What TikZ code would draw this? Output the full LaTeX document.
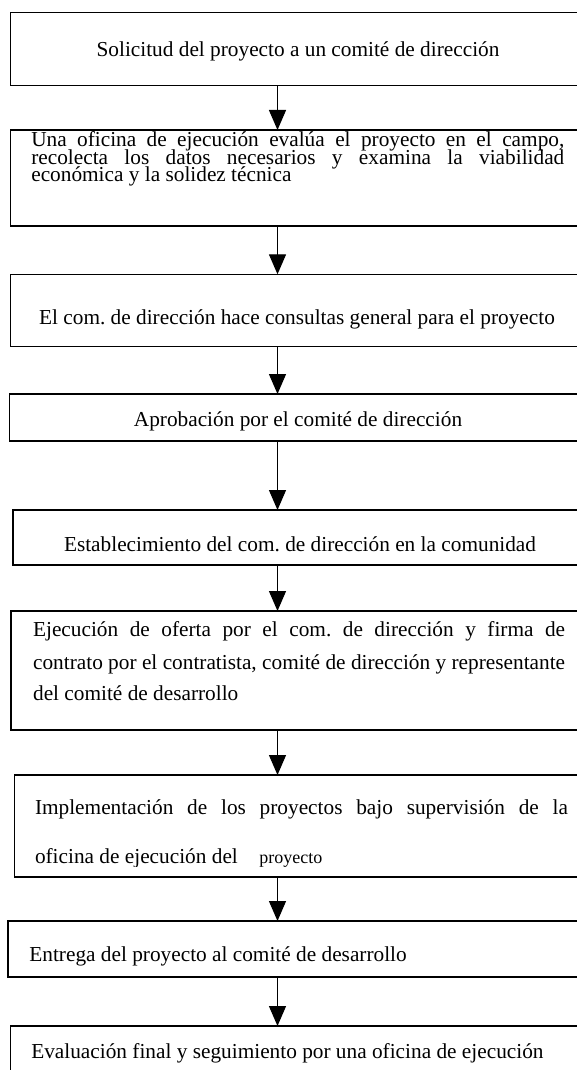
\documentclass[tikz,border=0pt]{standalone}
\usepackage{fontspec}
\setmainfont{Liberation Serif}
\usetikzlibrary{arrows.meta}
\frenchspacing
\begin{document}
\begin{tikzpicture}[x=1pt,y=-1pt,
  box/.style={draw=black, line width=1.3pt, rectangle, inner sep=0pt, outer sep=0pt, anchor=north west, minimum width=620pt},
  txt/.style={inner sep=0pt, outer sep=0pt, anchor=base west, font=\fontsize{21.3}{21.3}\selectfont},
  tight/.style={txt, text height=12pt, text depth=4pt},
  ctxt/.style={txt, anchor=base},
  small/.style={txt, font=\fontsize{18}{18}\selectfont},
  arr/.style={line width=1.3pt, -{Triangle[length=20pt,width=17pt]}}]
\useasboundingbox (0,0) rectangle (577,1070);
\fill[white] (0,0) rectangle (577,1070);
\begin{scope}
\clip (0,0) rectangle (577,1070);
% boxes
\node[box, minimum height=73pt] (b1) at (10.3,12.7) {};
\node[box, minimum height=96pt] (b2) at (10.3,130) {};
\node[box, minimum height=72.4pt] (b3) at (10.3,274.3) {};
\node[box, minimum height=47pt] (b4) at (9.2,394) {};
\node[box, minimum height=55pt] (b5) at (12.9,510) {};
\node[box, minimum height=119pt] (b6) at (11,611) {};
\node[box, minimum height=102pt] (b7) at (14.7,775) {};
\node[box, minimum height=56pt] (b8) at (8.1,921) {};
\node[box, minimum height=100pt] (b9) at (10.3,1026) {};
% texts
\node[ctxt] (t1) at (298,57) {Solicitud del proyecto a un comité de dirección};
\node[tight] (t2a) at (31.3,146.3) {\makebox[533pt][s]{Una oficina de ejecución evalúa el proyecto en el campo,}};
\node[tight] (t2b) at (31.3,164) {\makebox[533pt][s]{recolecta los datos necesarios y examina la viabilidad}};
\node[tight] (t2c) at (31.3,181.3) {económica y la solidez técnica};
\node[ctxt] (t3) at (297,324.7) {El com. de dirección hace consultas general para el proyecto};
\node[ctxt] (t4) at (298,426.3) {Aprobación por el comité de dirección};
\node[ctxt] (t5) at (300,551.3) {Establecimiento del com. de dirección en la comunidad};
\node[txt] (t6a) at (33.1,636.3) {\makebox[532pt][s]{Ejecución de oferta por el com. de dirección y firma de}};
\node[txt] (t6b) at (33.1,669.7) {\makebox[532pt][s]{contrato por el contratista, comité de dirección y representante}};
\node[txt] (t6c) at (33.1,700.7) {del comité de desarrollo};
\node[txt] (t7a) at (35,814.7) {\makebox[533pt][s]{Implementación de los proyectos bajo supervisión de la}};
\begin{scope}
\clip (0,840) rectangle (577,866.5);
\node[txt] (t7b) at (35,863) {oficina de ejecución del};
\node[small] (t7c) at (259.4,863) {proyecto};
\end{scope}
\node[txt] (t8) at (29.4,961.3) {Entrega del proyecto al comité de desarrollo};
\node[txt] (t9) at (31.3,1058) {Evaluación final y seguimiento por una oficina de ejecución};
% arrows
\coordinate (ax) at (277.5,0);
\draw[arr] (b1.south -| ax) -- (b2.north -| ax);
\draw[arr] (b2.south -| ax) -- (b3.north -| ax);
\draw[arr] (b3.south -| ax) -- (b4.north -| ax);
\draw[arr] (b4.south -| ax) -- (b5.north -| ax);
\draw[arr] (b5.south -| ax) -- (b6.north -| ax);
\draw[arr] (b6.south -| ax) -- (b7.north -| ax);
\draw[arr] (b7.south -| ax) -- (b8.north -| ax);
\draw[arr] (b8.south -| ax) -- (b9.north -| ax);
\end{scope}
\end{tikzpicture}
\end{document}
